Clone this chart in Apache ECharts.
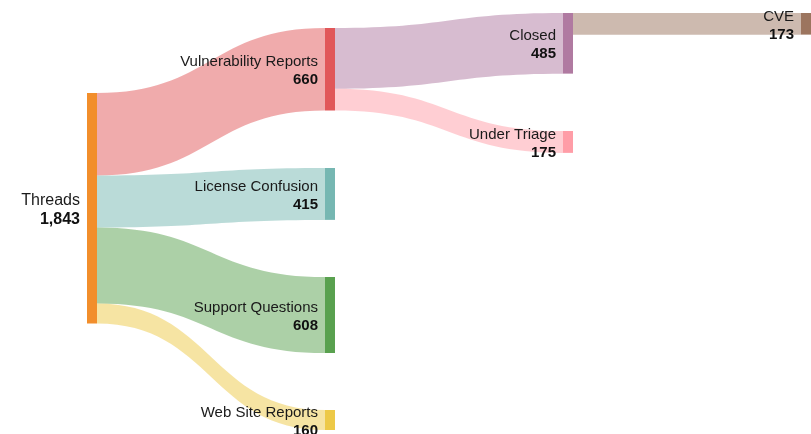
<!DOCTYPE html>
<html>
<head>
<meta charset="utf-8">
<script src="https://cdn.jsdelivr.net/npm/echarts@6/dist/echarts.min.js"></script>
<style>
  html, body { margin: 0; padding: 0; background: #fff; }
  #chart { width: 811px; height: 434px; }
</style>
</head>
<body>
<div id="chart"></div>
<script>
  // nodes
  const nodeNames = ['Threads', 'Vulnerability Reports', 'License Confusion', 'Support Questions',
                     'Web Site Reports', 'Closed', 'Under Triage', 'CVE'];
  // links
  const linkSources = ['Threads', 'Threads', 'Threads', 'Threads', 'Vulnerability Reports', 'Vulnerability Reports', 'Closed'];
  const linkTargets = ['Vulnerability Reports', 'License Confusion', 'Support Questions', 'Web Site Reports', 'Closed', 'Under Triage', 'CVE'];
  const linkValues  = [660, 415, 608, 160, 485, 175, 173];

  // styling / layout (not data)
  const nodeColors = {
    'Threads': '#F28E2B', 'Vulnerability Reports': '#E15759', 'License Confusion': '#76B7B2',
    'Support Questions': '#59A14F', 'Web Site Reports': '#EDC948', 'Closed': '#B07AA1',
    'Under Triage': '#FF9DA7', 'CVE': '#9C755F'
  };
  const TOP = 13, H = 417;
  const nodeTop = { // pixel top of each node
    'Threads': 93, 'Vulnerability Reports': 28, 'License Confusion': 168, 'Support Questions': 277,
    'Web Site Reports': 410, 'Closed': 13, 'Under Triage': 131, 'CVE': 13
  };

  const font = 'Liberation Sans, Arial, sans-serif';

  const nodes = nodeNames.map(function (n) {
    const item = {
      name: n,
      localY: (nodeTop[n] - TOP) / H,
      itemStyle: { color: nodeColors[n] }
    };
    if (n === 'Threads') {
      item.label = { rich: { n: { fontSize: 16, lineHeight: 19 }, v: { fontSize: 16, lineHeight: 19, fontWeight: 'bold' } } };
    }
    return item;
  });
  const links = linkValues.map(function (v, i) {
    return { source: linkSources[i], target: linkTargets[i], value: v };
  });

  const chartObj = echarts.init(document.getElementById('chart'));
  chartObj.setOption({
    animation: false,
    series: [{
      type: 'sankey',
      left: 87, right: 0, top: TOP, bottom: 434 - TOP - H,
      nodeWidth: 10,
      nodeGap: 62.2,
      nodeAlign: 'left',
      layoutIterations: 0,
      draggable: false,
      emphasis: { disabled: true },
      data: nodes,
      links: links,
      itemStyle: { borderWidth: 0 },
      lineStyle: { color: 'target', opacity: 0.5, curveness: 0.5 },
      label: {
        position: 'left',
        distance: 7,
        offset: [0, 2],
        align: 'right',
        color: '#1a1a1a',
        fontFamily: font,
        formatter: function (p) {
          return '{n|' + p.name + '}\n{v|' + p.value.toLocaleString('en-US') + '}';
        },
        rich: {
          n: { fontSize: 15, lineHeight: 18, fontFamily: font, color: '#1a1a1a', align: 'right' },
          v: { fontSize: 15, lineHeight: 18, fontWeight: 'bold', fontFamily: font, color: '#111', align: 'right' }
        }
      }
    }]
  });
</script>
</body>
</html>
